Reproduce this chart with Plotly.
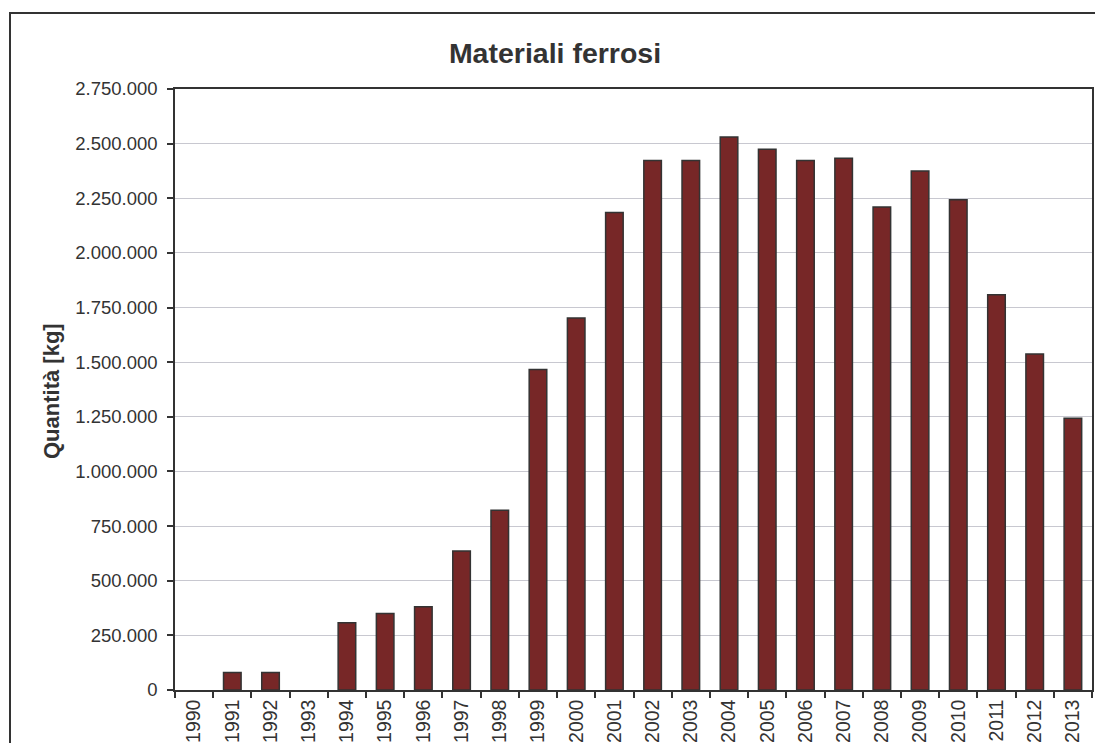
import plotly.graph_objects as go

years = [str(y) for y in range(1990, 2014)]
quantita_kg = [0, 80000, 80000, 0, 308000, 350000, 381000, 636000, 823000, 1467000,
               1702000, 2185000, 2423000, 2423000, 2530000, 2474000, 2423000, 2433000,
               2210000, 2375000, 2243000, 1808000, 1538000, 1243000]
y_ticks = list(range(0, 2750001, 250000))

FONT = "Arial, Liberation Sans, sans-serif"
DARK = "#333333"

W, H = 1095, 743
L, R, T, B = 175, 3, 89, 53
pw = W - L - R
ph = H - T - B

fig = go.Figure(go.Bar(
    x=years, y=quantita_kg,
    marker=dict(color="#772727",
                line=dict(color=DARK, width=[0 if v == 0 else 1.5 for v in quantita_kg])),
))

fig.update_layout(
    width=W, height=H,
    margin=dict(l=L, r=R, t=T, b=B),
    paper_bgcolor="white", plot_bgcolor="white",
    separators=",.",
    bargap=0.54,
    showlegend=False,
    font=dict(family=FONT, color=DARK),
    title=dict(text="<b>Materiali ferrosi</b>", font=dict(size=28.5, color=DARK, family=FONT),
               x=555 / W, xref="container", xanchor="center",
               y=1 - 53 / H, yref="container", yanchor="middle"),
    xaxis=dict(type="category", tickangle=-90, ticks="outside", tickson="boundaries",
               ticklen=6, tickwidth=1.5, tickcolor=DARK, automargin=False,
               showline=True, linecolor=DARK, linewidth=1.5, mirror=True,
               tickfont=dict(size=19.5, color=DARK, family=FONT), showgrid=False),
    yaxis=dict(range=[0, 2750000], tickvals=y_ticks, tickformat=",d",
               ticks="outside", ticklen=6, tickwidth=1.5, tickcolor=DARK, automargin=False,
               showline=True, linecolor=DARK, linewidth=1.5, mirror=True,
               showgrid=True, gridcolor="#c8c8d0", gridwidth=1.3,
               tickfont=dict(size=18.5, color=DARK, family=FONT),
               ticklabelstandoff=6, zeroline=False),
    annotations=[dict(text="<b>Quantità [kg]</b>", textangle=-90,
                      x=(51 - L) / pw, y=(H - B - 391) / ph, xref="paper", yref="paper",
                      xanchor="center", yanchor="middle", showarrow=False,
                      font=dict(size=22, color=DARK, family=FONT))],
    shapes=[dict(type="rect", xref="paper", yref="paper",
                 x0=(10 - L) / pw, x1=(1105 - L) / pw,
                 y0=(H - B - 760) / ph, y1=(H - B - 13) / ph,
                 line=dict(color=DARK, width=2), fillcolor="rgba(0,0,0,0)", layer="above")],
)

fig.write_html("out.html", config={"displayModeBar": False},
               post_script="document.body.style.margin='0';document.body.style.overflow='hidden';")
